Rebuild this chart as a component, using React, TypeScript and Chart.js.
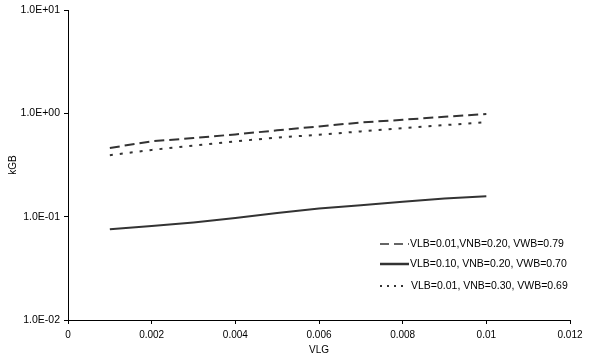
import React, { useEffect, useRef } from "react";
import { Chart, registerables } from "chart.js";

Chart.register(...registerables);

const vlg = [0.001, 0.002, 0.003, 0.004, 0.005, 0.006, 0.007, 0.008, 0.009, 0.01];
const seriesA = [0.464, 0.538, 0.579, 0.628, 0.687, 0.75, 0.819, 0.87, 0.93, 0.99];
const seriesB = [0.0755, 0.0814, 0.0881, 0.0972, 0.1086, 0.12, 0.1296, 0.14, 0.15, 0.158];
const seriesC = [0.395, 0.444, 0.489, 0.538, 0.584, 0.624, 0.671, 0.723, 0.772, 0.825];
const labels = [
  "VLB=0.01,VNB=0.20, VWB=0.79",
  "VLB=0.10, VNB=0.20, VWB=0.70",
  "VLB=0.01, VNB=0.30, VWB=0.69",
];
const yTicks = [0.01, 0.1, 1, 10];
const dashes = [[10, 5], [], [3, 7]];
const legendDashes = [[9, 5], [], [2, 5]];
const legendWidths = [1.5, 2.5, 2];
const FONT = "'Liberation Sans', Arial, sans-serif";
const LINE = "#333333";

const toPts = (ys: number[]) => vlg.map((x, i) => ({ x, y: ys[i] }));

const fmtE = (v: number) => {
  const e = Math.round(Math.log10(v));
  const s = e >= 0 ? "+" : "-";
  return `1.0E${s}${String(Math.abs(e)).padStart(2, "0")}`;
};

const legendPlugin = {
  id: "insideLegend",
  afterDraw(chart: any) {
    const ctx = chart.ctx;
    const ys = [244, 264, 286];
    ctx.save();
    ctx.font = `10.5px ${FONT}`;
    ctx.fillStyle = "#000";
    ctx.textBaseline = "middle";
    labels.forEach((t, i) => {
      ctx.beginPath();
      ctx.strokeStyle = LINE;
      ctx.lineWidth = legendWidths[i];
      ctx.setLineDash(legendDashes[i]);
      ctx.moveTo(380, ys[i]);
      ctx.lineTo(i === 2 ? 405 : 409, ys[i]);
      ctx.stroke();
      ctx.setLineDash([]);
      ctx.fillText(t, i === 2 ? 411 : 410, ys[i]);
    });
    ctx.restore();
  },
};

export default function App() {
  const ref = useRef<HTMLCanvasElement>(null);
  useEffect(() => {
    document.body.style.margin = "0";
    const chart = new Chart(ref.current!, {
      type: "line",
      data: {
        datasets: [seriesA, seriesB, seriesC].map((s, i) => ({
          label: labels[i],
          data: toPts(s),
          borderColor: LINE,
          borderWidth: 2,
          borderDash: dashes[i],
          pointRadius: 0,
          fill: false,
          tension: 0,
        })),
      },
      options: {
        animation: false,
        responsive: false,
        maintainAspectRatio: false,
        layout: { padding: { left: 0, top: 8, right: 28, bottom: 0 } },
        plugins: { legend: { display: false }, tooltip: { enabled: false } },
        scales: {
          x: {
            type: "linear",
            min: 0,
            max: 0.012,
            ticks: {
              stepSize: 0.002,
              color: "#000",
              font: { family: FONT, size: 10 },
              maxRotation: 0,
              padding: 5,
              callback: (v: any) => String(Number(Number(v).toFixed(3))),
            },
            grid: { drawOnChartArea: false, drawTicks: true, tickLength: 4, color: "#000" },
            border: { color: "#000", width: 1 },
            title: {
              display: true,
              text: "VLG",
              color: "#000",
              font: { family: FONT, size: 10 },
              padding: { top: 4, bottom: 4 },
            },
            afterFit: (s: any) => {
              s.height = 40;
            },
          },
          y: {
            type: "logarithmic",
            min: 0.01,
            max: 10,
            afterBuildTicks: (s: any) => {
              s.ticks = yTicks.map((v) => ({ value: v, major: true }));
            },
            ticks: {
              color: "#000",
              font: { family: FONT, size: 10.5 },
              padding: 4,
              autoSkip: false,
              callback: (v: any) => fmtE(Number(v)),
            },
            grid: { drawOnChartArea: false, drawTicks: true, tickLength: 4, color: "#000" },
            border: { color: "#000", width: 1 },
            title: {
              display: true,
              text: "kGB",
              color: "#000",
              font: { family: FONT, size: 10 },
              padding: { top: 7, bottom: 4 },
            },
            afterFit: (s: any) => {
              s.width = 68;
            },
          },
        },
      },
      plugins: [legendPlugin],
    });
    return () => chart.destroy();
  }, []);
  return (
    <div style={{ position: "absolute", left: 0, top: 0, width: 598, height: 360, background: "#fff" }}>
      <canvas ref={ref} width={598} height={360} />
    </div>
  );
}
